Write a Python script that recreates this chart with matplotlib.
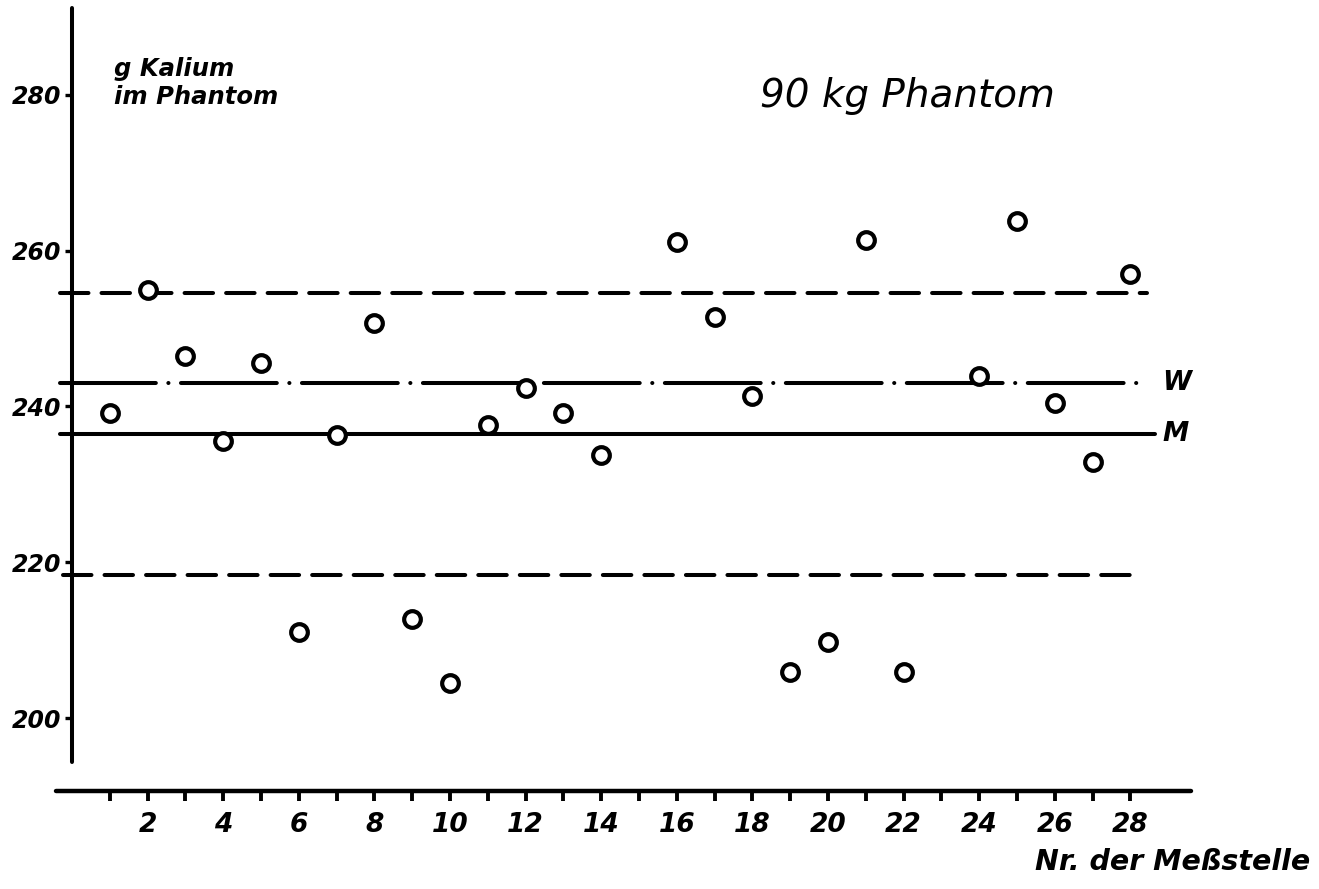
import matplotlib
matplotlib.use("Agg")
import matplotlib.pyplot as plt

plt.rcParams['lines.scale_dashes'] = False
plt.rcParams['font.family'] = ['DejaVu Sans']

# ---- data ----
stations = [1, 2, 3, 4, 5, 6, 7, 8, 9, 10, 11, 12, 13, 14,
            16, 17, 18, 19, 20, 21, 22, 24, 25, 26, 27, 28]
kalium = [239.2, 255.0, 246.5, 235.6, 245.6, 211.0, 236.3, 250.7, 212.7, 204.5,
          237.6, 242.4, 239.2, 233.8,
          261.1, 251.5, 241.3, 205.9, 209.8, 261.4, 205.9, 243.9, 263.8, 240.4,
          232.9, 257.0]
upper_limit = 254.6
w_value = 243.0
m_value = 236.5
lower_limit = 218.4
y_ticks = [200, 220, 240, 260, 280]
x_ticks = list(range(1, 29))
x_ticklabels = [str(v) if v % 2 == 0 else '' for v in x_ticks]

W, H = 1319, 889
fig = plt.figure(figsize=(W / 100, H / 100), dpi=100)

# pixel mapping: x_px = 72 + 37.8*x ; y_px = 718 - 7.7875*(y-200)
xl = (-0.5, 31.0)
yl = (188.0, 292.0)
def px_x(v): return 72 + 37.8 * v
def px_y(v): return 718 - 7.7875 * (v - 200)
left = px_x(xl[0]) / W
right = px_x(xl[1]) / W
bottom = 1 - px_y(yl[0]) / H
top = 1 - px_y(yl[1]) / H
ax = fig.add_axes([left, bottom, right - left, top - bottom])
ax.set_xlim(*xl)
ax.set_ylim(*yl)
ax.patch.set_alpha(0)

for s in ['top', 'right']:
    ax.spines[s].set_visible(False)
ax.spines['left'].set_position(('data', 0))
ax.spines['left'].set_bounds(194.3, 291.2)
ax.spines['left'].set_linewidth(2.9)
ax.spines['left'].set_capstyle('round')
ax.spines['bottom'].set_position(('data', 190.6))
ax.spines['bottom'].set_bounds(-0.42, 29.6)
ax.spines['bottom'].set_linewidth(3.2)
ax.spines['bottom'].set_capstyle('round')

tickfont = dict(fontweight='bold', style='italic')
ax.set_xticks(x_ticks)
ax.set_xticklabels(x_ticklabels, fontsize=19, **tickfont)
ax.set_yticks(y_ticks)
ax.set_yticklabels([str(v) for v in y_ticks], fontsize=17, **tickfont)
ax.tick_params(axis='x', direction='out', length=7, width=2.8, pad=8)
ax.tick_params(axis='y', direction='out', length=5, width=2.4, pad=3)

# reference lines
lw = 2.9
ax.plot([-0.32, 28.44], [upper_limit, upper_limit], color='black', lw=lw,
        dashes=(20.5, 9.4), dash_capstyle='round', solid_capstyle='round', zorder=2)
ax.plot([-0.25, 28.1], [lower_limit, lower_limit], color='black', lw=lw,
        dashes=(20.5, 9.4), dash_capstyle='round', zorder=2)
ax.plot([-0.32, 28.47], [w_value, w_value], color='black', lw=lw,
        dashes=(69, 9, 0.1, 9), dash_capstyle='round', zorder=2)
ax.plot([-0.32, 28.65], [m_value, m_value], color='black', lw=lw,
        solid_capstyle='round', zorder=2)

# data points
ax.plot(stations, kalium, linestyle='none', marker='o', markersize=12,
        markeredgewidth=3.0, markerfacecolor='white', markeredgecolor='black',
        zorder=3)

# labels
ax.text(28.85, w_value, 'W', fontsize=19, fontweight='bold', style='italic',
        va='center', ha='left')
ax.text(28.85, m_value, 'M', fontsize=19, fontweight='bold', style='italic',
        va='center', ha='left')

fig.text(114 / W, 1 - 76 / H, 'g Kalium', fontsize=17.5, style='italic',
         fontweight='bold', va='baseline', ha='left')
fig.text(114 / W, 1 - 104 / H, 'im Phantom', fontsize=17.5, style='italic',
         fontweight='bold', va='baseline', ha='left')
fig.text(760 / W, 1 - 107 / H, '90 kg Phantom', fontsize=28, style='italic',
         va='baseline', ha='left')
fig.text(1035 / W, 1 - 870 / H, 'Nr. der Meßstelle', fontsize=20.5, style='italic',
         fontweight='bold', va='baseline', ha='left')

fig.savefig('out.png', dpi=100, facecolor='white')
